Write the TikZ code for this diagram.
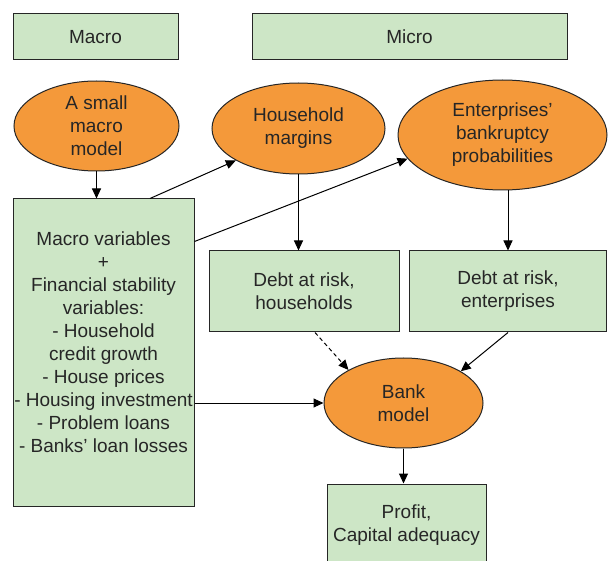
\documentclass[tikz,border=0pt]{standalone}
\usepackage{fontspec}
\setmainfont{Liberation Sans}
\usetikzlibrary{shapes.geometric,arrows.meta}
\definecolor{boxgreen}{RGB}{205,230,198}
\definecolor{ovalorange}{RGB}{244,153,58}

\begin{document}
\begin{tikzpicture}[x=1pt,y=-1pt,
    font=\fontsize{19}{23}\selectfont, text=black!85,
    box/.style={draw=black!85,fill=boxgreen,line width=1pt,inner sep=0pt,align=center},
    oval/.style={ellipse,draw=black!85,fill=ovalorange,line width=1pt,inner sep=0pt,align=center},
    link/.style={-{Triangle[length=10pt,width=9pt]},line width=1pt}]

    \useasboundingbox (0,0) rectangle (608,561);

    % headings
    \node [box,minimum width=165pt,minimum height=46pt] (macro) at (95.5,37)  {Macro};
    \node [box,minimum width=315pt,minimum height=46pt] (micro) at (409.5,37) {Micro};

    % models
    \node [oval,minimum width=165pt,minimum height=90pt]  (small) at (96.5,126)   {A small\\macro\\model};
    \node [oval,minimum width=173pt,minimum height=91pt]  (house) at (298.5,128.5) {Household\\margins};
    \node [oval,minimum width=209pt,minimum height=110pt] (firms) at (502.5,135)   {Enterprises'\\bankruptcy\\probabilities};
    \node [oval,minimum width=159pt,minimum height=90pt]  (bank)  at (403.5,403)   {Bank\\model};

    % variables and results
    \node [box,minimum width=181pt,minimum height=307pt] (vars) at (103.5,352.5)
        {Macro variables\\+\\Financial stability\\variables:\\- Household\\credit growth\\- House prices\\- Housing investment\\- Problem loans\\- Banks' loan losses\\[-2pt]\mbox{}};
    \node [box,minimum width=190pt,minimum height=81pt] (dhouse) at (304,291.5)   {Debt at risk,\\households};
    \node [box,minimum width=197pt,minimum height=81pt] (dfirms) at (508,291.5)   {Debt at risk,\\enterprises};
    \node [box,minimum width=159pt,minimum height=82pt] (profit) at (406.5,525)   {Profit,\\Capital adequacy};

    % flows
    \draw [link] (small.south) -- (small.south |- vars.north);
    \draw [link] ([xshift=46.5pt]vars.north) -- (house.207);
    \draw [link] ([yshift=-43pt]vars.north east) -- (firms.194);
    \draw [link] (house.south) -- (house.south |- dhouse.north);
    \draw [link] (dfirms.north |- firms.south) -- (dfirms.north);
    \draw [link,dash pattern=on 4pt off 3pt] ([xshift=11pt]dhouse.south) -- (bank.149);
    \draw [link] (dfirms.south) -- (bank.29);
    \draw [link] (vars.east |- bank.west) -- (bank.west);
    \draw [link] (bank.south) -- (bank.south |- profit.north);
\end{tikzpicture}
\end{document}
